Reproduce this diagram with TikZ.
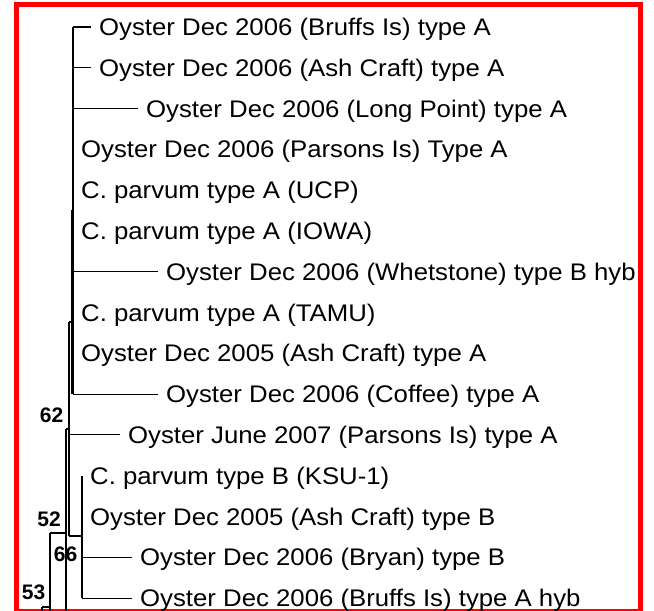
\documentclass[tikz,border=0pt]{standalone}
\usepackage{fontspec}
\setmainfont{Liberation Sans}
\newfontfamily\leaffont[FakeStretch=1.073]{Liberation Sans}
\usetikzlibrary{calc}

\begin{document}
\begin{tikzpicture}[x=1pt, y=-1pt]

        % Page size and the red frame round the figure
        \useasboundingbox (0,0) rectangle (654,611);
        \draw[red, line width=5.5pt] (16.5,4.5) rectangle (640.5,611.5);

        \tikzset{
          branch/.style={line width=1.3pt, black},
          leaf/.style={anchor=west, font=\leaffont\fontsize{24}{24}\selectfont,
                       inner xsep=8pt, inner ysep=0pt, text height=17pt, text depth=0pt},
          boot/.style={anchor=south east, font=\bfseries\fontsize{21}{21}\selectfont, inner sep=0pt}
        }

        % 1. Clade of rows 1--10 (all joined at x = 73)
        \coordinate (a1) at (73,27);
        \coordinate (a2) at (73,67.8);
        \coordinate (a3) at (73,108.6);
        \coordinate (a4) at (73,149.4);
        \coordinate (a5) at (73,190.2);
        \coordinate (a6) at (73,231);
        \coordinate (a7) at (73,271.8);
        \coordinate (a8) at (73,312.6);
        \coordinate (a9) at (73,353.4);
        \coordinate (a10) at (73,394.2);
        \coordinate (A) at (73,322);      % node of the clade
        \coordinate (Ainner) at (71.5,210); % nested zero-length nodes

        \node[leaf] (l1) at (91,27) {Oyster Dec 2006 (Bruffs Is) type A};
        \node[leaf] (l2) at (91,67.8) {Oyster Dec 2006 (Ash Craft) type A};
        \node[leaf] (l3) at (138,108.6) {Oyster Dec 2006 (Long Point) type A};
        \node[leaf] (l4) at (a4) {Oyster Dec 2006 (Parsons Is) Type A};
        \node[leaf] (l5) at (a5) {C. parvum type A (UCP)};
        \node[leaf] (l6) at (a6) {C. parvum type A (IOWA)};
        \node[leaf] (l7) at (158,271.8) {Oyster Dec 2006 (Whetstone) type B hyb};
        \node[leaf] (l8) at (a8) {C. parvum type A (TAMU)};
        \node[leaf] (l9) at (a9) {Oyster Dec 2005 (Ash Craft) type A};
        \node[leaf] (l10) at (158,394.2) {Oyster Dec 2006 (Coffee) type A};

        \draw[branch] (a1) -- (a10);
        \draw[branch] (Ainner) -- (Ainner |- a10);
        \draw[branch] (a1) -- (l1.west);
        \draw[branch] (a2) -- (l2.west);
        \draw[branch] (a3) -- (l3.west);
        \draw[branch] (a7) -- (l7.west);
        \draw[branch] (a10) -- (l10.west);

        % 2. Node 62 (x = 69) and row 11
        \coordinate (B) at (69,429);
        \coordinate (Btop) at (69,322);
        \coordinate (Bbot) at (69,536);
        \coordinate (b11) at (69,434.5);
        \node[leaf] (l11) at (120,434.5) {Oyster June 2007 (Parsons Is) type A};

        \draw[branch] (Btop) -- (Bbot);
        \draw[branch] (Btop) -- (A);
        \draw[branch] (b11) -- (l11.west);

        % 3. Node 66 (x = 82), rows 12--15
        \coordinate (D) at (82,536);
        \coordinate (d12) at (82,475.8);
        \coordinate (d13) at (82,516.6);
        \coordinate (d14) at (82,557.4);
        \coordinate (d15) at (82,598.2);
        \node[leaf] (l12) at (d12) {C. parvum type B (KSU-1)};
        \node[leaf] (l13) at (d13) {Oyster Dec 2005 (Ash Craft) type B};
        \node[leaf] (l14) at (132,557.4) {Oyster Dec 2006 (Bryan) type B};
        \node[leaf] (l15) at (132,598.2) {Oyster Dec 2006 (Bruffs Is) type A hyb};

        \draw[branch] (Bbot) -- (D);
        \draw[branch] (d12) -- (d15);
        \draw[branch] (d14) -- (l14.west);
        \draw[branch] (d15) -- (l15.west);

        % 4. Deeper nodes 52 and 53, running off the bottom
        \coordinate (C) at (66,533);
        \coordinate (E) at (50,607);
        \draw[branch] (66,429) -- (B);
        \draw[branch] (66,429) -- (66,640);
        \draw[branch] (50,533) -- (C);
        \draw[branch] (50,533) -- (50,680);
        \draw[branch] (42,607) -- (E);
        \draw[branch] (42,607) -- (42,700);

        % 5. Bootstrap values
        \node[boot] (bs62) at (63.5,422.5) {62};
        \node[boot] (bs52) at (61,527) {52};
        \node[boot] (bs66) at (77.5,562) {66};
        \node[boot] (bs53) at (45.5,600) {53};

\end{tikzpicture}
\end{document}
